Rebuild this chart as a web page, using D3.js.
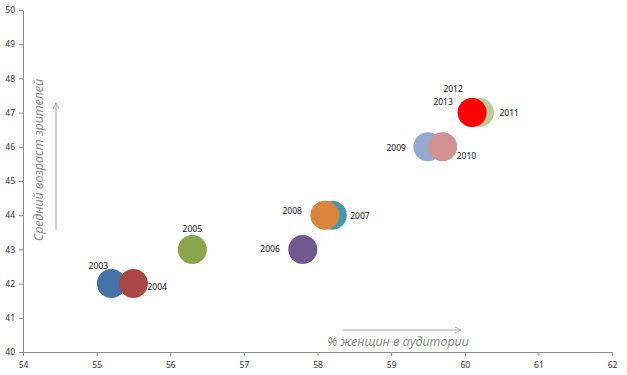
<!DOCTYPE html>
<html>
<head>
<meta charset="utf-8">
<script src="https://cdn.jsdelivr.net/npm/d3@7"></script>
<style>
  body { margin: 0; background: #fff; }
  text { font-family: 'Noto Sans', sans-serif; }
  .tick text { font-size: 8.5px; fill: #333; }
  .domain, .tick line { stroke: #8c8c8c; }
  .year { font-size: 8.5px; fill: #111; }
  .title { font-size: 12.5px; font-style: italic; fill: #8c8c8c; }
</style>
</head>
<body>
<div id="chart"></div>
<script>
'use strict';

// year labels, % women in audience, average viewer age
const years = ['2003', '2004', '2005', '2006', '2007', '2008', '2009', '2010', '2011', '2012', '2013'];
const womenPct = [55.2, 55.5, 56.3, 57.8, 58.2, 58.1, 59.5, 59.7, 60.2, 60.1, 60.1];
const avgAge = [42, 42, 43, 43, 44, 44, 46, 46, 47, 47, 47];
const colors = ['#4572a7', '#aa4643', '#89a54e', '#71588f', '#4198af', '#db843d',
                '#93a9cf', '#d19392', '#b9cd96', '#a99bbd', '#ff0000'];
// label placement relative to each bubble: [dx, dy, anchor]
const labelPos = [
  [-13, -15, 'middle'], [14, 6, 'start'], [0, -17, 'middle'], [-23, 3, 'end'],
  [18, 4, 'start'], [-23, -1, 'end'], [-22, 4, 'end'], [14, 12, 'start'],
  [20, 3, 'start'], [-19, -21, 'middle'], [-29, -8, 'middle']
];

const xTicks = [54, 55, 56, 57, 58, 59, 60, 61, 62];
const yTicks = [40, 41, 42, 43, 44, 45, 46, 47, 48, 49, 50];

const W = 627;
const H = 375;
const plotLeft = 23;
const plotTop = 10;
const plotRight = 612;
const plotBottom = 352;
const radius = 14.5;

const svg = d3.select('#chart')
  .append('svg')
  .attr('width', W)
  .attr('height', H);

const defs = svg.append('defs');
defs.append('marker')
  .attr('id', 'arrow')
  .attr('viewBox', '0 0 10 10')
  .attr('refX', 9)
  .attr('refY', 5)
  .attr('markerWidth', 8)
  .attr('markerHeight', 8)
  .attr('markerUnits', 'userSpaceOnUse')
  .attr('orient', 'auto')
  .append('path')
  .attr('d', 'M1,1 L9,5 L1,9')
  .attr('fill', 'none')
  .attr('stroke', '#a6a6a6')
  .attr('stroke-width', 1.2);

const xScale = d3.scaleLinear().domain([54, 62]).range([plotLeft, plotRight]);
const yScale = d3.scaleLinear().domain([40, 50]).range([plotBottom, plotTop]);

svg.append('g')
  .attr('transform', `translate(0, ${plotBottom})`)
  .call(d3.axisBottom(xScale).tickValues(xTicks).tickSize(4).tickPadding(6).tickFormat(d3.format('d')));

svg.append('g')
  .attr('transform', `translate(${plotLeft}, 0)`)
  .call(d3.axisLeft(yScale).tickValues(yTicks).tickSize(4).tickPadding(4).tickFormat(d3.format('d')));

// axis hints with arrows
svg.append('line')
  .attr('x1', 56).attr('y1', 230)
  .attr('x2', 56).attr('y2', 103)
  .attr('stroke', '#a6a6a6')
  .attr('stroke-width', 1)
  .attr('marker-end', 'url(#arrow)');

svg.append('text')
  .attr('class', 'title')
  .attr('transform', 'translate(43, 160) rotate(-90)')
  .attr('text-anchor', 'middle')
  .text('Средний возраст зрителей');

svg.append('line')
  .attr('x1', 343).attr('y1', 330)
  .attr('x2', 461).attr('y2', 330)
  .attr('stroke', '#a6a6a6')
  .attr('stroke-width', 1)
  .attr('marker-end', 'url(#arrow)');

svg.append('text')
  .attr('class', 'title')
  .attr('x', 398)
  .attr('y', 346)
  .attr('text-anchor', 'middle')
  .text('% женщин в аудитории');

const points = years.map((y, i) => ({ year: y, x: womenPct[i], y: avgAge[i], color: colors[i], pos: labelPos[i] }));

const groups = svg.selectAll('.pt')
  .data(points)
  .enter()
  .append('g');

groups.append('circle')
  .attr('cx', d => xScale(d.x))
  .attr('cy', d => yScale(d.y))
  .attr('r', radius)
  .attr('fill', d => d.color);

groups.append('text')
  .attr('class', 'year')
  .attr('x', d => xScale(d.x) + d.pos[0])
  .attr('y', d => yScale(d.y) + d.pos[1])
  .attr('text-anchor', d => d.pos[2])
  .text(d => d.year);
</script>
</body>
</html>
